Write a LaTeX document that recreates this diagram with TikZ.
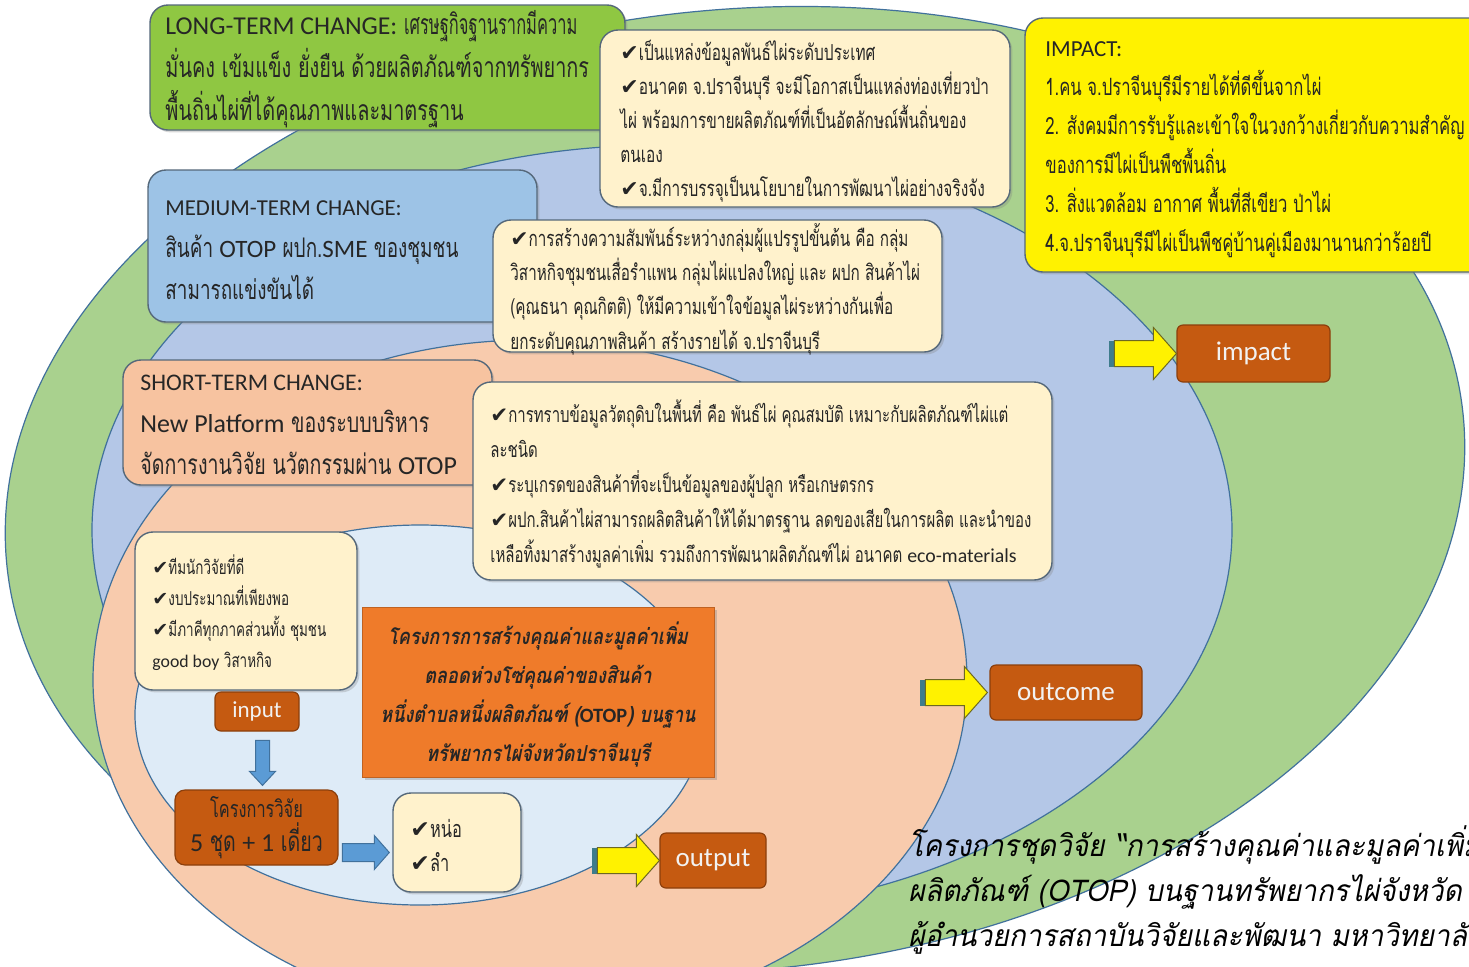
\documentclass[tikz,border=0pt]{standalone}
\usepackage{fontspec}
\setmainfont{Carlito}
\newfontfamily\thaifont[Script=Thai,FakeStretch=0.70]{Loma}
\newfontfamily\thaicond[Script=Thai,FakeStretch=0.58]{Loma}
\newfontfamily\thaibi[Script=Thai,FakeSlant=0.2,FakeStretch=0.82]{Loma}
\newfontfamily\thaiobl[Script=Thai,FakeSlant=0.2,FakeStretch=0.935]{Loma}
\newfontfamily\symfont{DejaVu Sans}
\newfontfamily\latfont[Scale=0.926]{Carlito}
\newcommand\ck{{\symfont\char"2714}}
\newcommand\enx[1]{{\latfont #1}}
\newcommand\fsz[2]{\fontsize{#1}{#2}\selectfont}
\usetikzlibrary{shadows,calc}
\definecolor{greenE}{HTML}{A9D18E}
\definecolor{blueE}{HTML}{B4C7E7}
\definecolor{peachE}{HTML}{F8CBAD}
\definecolor{ltblueE}{HTML}{DEEBF7}
\definecolor{greenB}{HTML}{8FC742}
\definecolor{medB}{HTML}{9DC3E6}
\definecolor{shortB}{HTML}{F7C3A0}
\definecolor{creamc}{HTML}{FFF2CC}
\definecolor{orangeB}{HTML}{EF7B2A}
\definecolor{btnc}{HTML}{C55A11}
\definecolor{btnline}{HTML}{8C3F0C}
\definecolor{boxline}{HTML}{55687A}
\definecolor{ellline}{HTML}{41719C}
\definecolor{txtc}{HTML}{262626}
\definecolor{arrblue}{HTML}{5B9BD5}
\definecolor{arrside}{HTML}{3E7C8C}
\begin{document}
\begin{tikzpicture}[x=0.5pt,y=-0.5pt,
  ell/.style={draw=ellline, line width=0.6pt},
  box/.style={draw=boxline, line width=0.7pt, rounded corners=9pt, inner sep=0pt,
    drop shadow={shadow xshift=1.2pt, shadow yshift=-1.2pt, opacity=0.3}},
  cream/.style={box, fill=creamc},
  txt/.style={anchor=west, align=left, inner sep=0pt, text=txtc},
  btn/.style={draw=btnline, line width=0.6pt, fill=btnc, rounded corners=3pt, inner sep=0pt, text=white!95!black},
  yarrow/.style={fill=yellow, draw=olive!70!black, line width=0.5pt},
  barrow/.style={fill=arrblue, draw=ellline, line width=0.5pt},
  yarr/.pic={
    \fill[arrside] (-67,-13) rectangle (-62,13);
    \filldraw[yarrow] (0,0) -- (-23,-26) -- (-23,-13) -- (-62,-13) -- (-62,13) -- (-23,13) -- (-23,26) -- cycle;},
  barrR/.pic={
    \filldraw[barrow] (0,0) -- (-15,-17) -- (-15,-9) -- (-47,-9) -- (-47,9) -- (-15,9) -- (-15,17) -- cycle;},
  barrD/.pic={
    \filldraw[barrow] (0,0) -- (-13,-14) -- (-7,-14) -- (-7,-45) -- (7,-45) -- (7,-14) -- (13,-14) -- cycle;}
]
\useasboundingbox (0,0) rectangle (1469,966);
\fill[white] (0,0) rectangle (1469,966);
% nested ellipses
\draw[ell, fill=greenE, rotate around={6:(735,490)}] (735,490) ellipse [x radius=366pt, y radius=240pt];
\draw[ell, fill=blueE] (662,530) ellipse [x radius=285pt, y radius=192.5pt];
\draw[ell, fill=peachE] (530,680) ellipse [x radius=218.5pt, y radius=170pt];
\draw[ell, fill=ltblueE] (420,715) ellipse [x radius=142.5pt, y radius=95pt];

% long-term
\node[box, fill=greenB, minimum width=237.5pt, minimum height=62.5pt] (lt) at (387.5,67.5) {};
\node[txt, font=\thaifont\fsz{14.2}{21.5}] (ltt) at (165,69) {{\latfont\fsz{13.9}{21.5}LONG-TERM CHANGE:} {\thaicond เศรษฐกิจฐานรากมีความ}\\
มั่นคง เข้มแข็ง ยั่งยืน ด้วยผลิตภัณฑ์จากทรัพยากร\\
พื้นถิ่นไผ่ที่ได้คุณภาพและมาตรฐาน};

% top middle cream
\node[cream, minimum width=205pt, minimum height=88.5pt] (lc) at (805,118.5) {};
\node[txt, font=\thaifont\fsz{11}{17}] (lct) at (620,121) {\ck เป็นแหล่งข้อมูลพันธ์ไผ่ระดับประเทศ\\
\ck อนาคต จ.ปราจีนบุรี จะมีโอกาสเป็นแหล่งท่องเที่ยวป่า\\
ไผ่ พร้อมการขายผลิตภัณฑ์ที่เป็นอัตลักษณ์พื้นถิ่นของ\\
ตนเอง\\
\ck จ.มีการบรรจุเป็นนโยบายในการพัฒนาไผ่อย่างจริงจัง};

% impact yellow
\node[box, fill=yellow, minimum width=232.5pt, minimum height=127pt] (imp) at (1257.5,145) {};
\node[txt, font=\thaifont\fsz{11.9}{19.5}] (impt) at (1045,150) {{\latfont\fsz{12.4}{19.5}IMPACT:}\\
1.คน จ.ปราจีนบุรีมีรายได้ที่ดีขึ้นจากไผ่\\
2. สังคมมีการรับรู้และเข้าใจในวงกว้างเกี่ยวกับความสำคัญ\\
ของการมีไผ่เป็นพืชพื้นถิ่น\\
3. สิ่งแวดล้อม อากาศ พื้นที่สีเขียว ป่าไผ่\\
4.จ.ปราจีนบุรีมีไผ่เป็นพืชคู่บ้านคู่เมืองมานานกว่าร้อยปี};

% medium-term
\node[box, fill=medB, minimum width=194.5pt, minimum height=76pt] (mt) at (342.5,246) {};
\node[txt, font=\thaifont\fsz{13.5}{21}] (mtt) at (165,250) {{\latfont\fsz{12.3}{21}MEDIUM-TERM CHANGE:}\\
สินค้า \enx{OTOP} ผปก.\enx{SME} ของชุมชน\\
สามารถแข่งขันได้};

% middle cream 2
\node[cream, minimum width=224.5pt, minimum height=66pt] (mc) at (717.5,286) {};
\node[txt, font=\thaifont\fsz{10.9}{17.2}] (mct) at (510,289) {\ck การสร้างความสัมพันธ์ระหว่างกลุ่มผู้แปรรูปขั้นต้น คือ กลุ่ม\\
วิสาหกิจชุมชนเสื่อรำแพน กลุ่มไผ่แปลงใหญ่ และ ผปก สินค้าไผ่\\
(คุณธนา คุณกิตติ) ให้มีความเข้าใจข้อมูลไผ่ระหว่างกันเพื่อ\\
ยกระดับคุณภาพสินค้า สร้างรายได้ จ.ปราจีนบุรี};

% short-term
\node[box, fill=shortB, minimum width=184.5pt, minimum height=62.5pt] (st) at (307.5,422.5) {};
\node[txt, font=\thaifont\fsz{14}{21}] (stt) at (140,425) {{\latfont\fsz{12.85}{21}SHORT-TERM CHANGE:}\\
\enx{New Platform} ของระบบบริหาร\\
จัดการงานวิจัย นวัตกรรมผ่าน \enx{OTOP}};

% big cream
\node[cream, minimum width=289.5pt, minimum height=99pt] (bc) at (762.5,481) {};
\node[txt, font=\thaifont\fsz{10.7}{17.5}] (bct) at (490,484) {\ck การทราบข้อมูลวัตถุดิบในพื้นที่ คือ พันธ์ไผ่ คุณสมบัติ เหมาะกับผลิตภัณฑ์ไผ่แต่\\
ละชนิด\\
\ck ระบุเกรดของสินค้าที่จะเป็นข้อมูลของผู้ปลูก หรือเกษตรกร\\
\ck ผปก.สินค้าไผ่สามารถผลิตสินค้าให้ได้มาตรฐาน ลดของเสียในการผลิต และนำของ\\
เหลือทิ้งมาสร้างมูลค่าเพิ่ม รวมถึงการพัฒนาผลิตภัณฑ์ไผ่ อนาคต \enx{eco-materials}};

% input cream
\node[cream, minimum width=111pt, minimum height=79pt] (ic) at (246,611) {};
\node[txt, font=\thaifont\fsz{9.6}{15.5}] (ict) at (152,613) {\ck ทีมนักวิจัยที่ดี\\
\ck งบประมาณที่เพียงพอ\\
\ck มีภาคีทุกภาคส่วนทั้ง ชุมชน\\
\enx{good boy} วิสาหกิจ};

% orange project box
\node[draw=orangeB!80!black, line width=0.4pt, fill=orangeB, minimum width=176pt, minimum height=85pt, inner sep=0pt,
  drop shadow={shadow xshift=1.5pt, shadow yshift=-1.5pt, opacity=0.35}] (ob) at (538,692) {};
\node[align=center, inner sep=0pt, text=black!85, font=\thaibi\bfseries\fsz{11}{19.5}] (obt) at (538,695) {โครงการการสร้างคุณค่าและมูลค่าเพิ่ม\\
ตลอดห่วงโซ่คุณค่าของสินค้า\\
หนึ่งตำบลหนึ่งผลิตภัณฑ์ (\enx{OTOP}) บนฐาน\\
ทรัพยากรไผ่จังหวัดปราจีนบุรี};

% input button
\node[btn, minimum width=42pt, minimum height=19.5pt, font=\fsz{11.5}{13}] (inb) at (257,711.5) {input};
% research box
\node[btn, rounded corners=5pt, minimum width=81.5pt, minimum height=37.5pt, text=black!85, align=center,
  font=\thaifont\fsz{11.7}{17}] (res) at (256.5,827.5) {โครงการวิจัย\\{\fsz{14}{17}\enx{5} ชุด \enx{+ 1} เดี่ยว}};
\pic at ($(res.north)+(6,-4)$) {barrD};
% hno box
\node[cream, minimum width=64pt, minimum height=49.5pt] (hn) at (457,842.5) {};
\node[txt, font=\thaifont\fsz{11.7}{17}] (hnt) at (410,845) {\ck หน่อ\\ \ck ลำ};
\pic at ($(hn.west)+(-3,10)$) {barrR};

% output / outcome / impact
\node[btn, minimum width=53pt, minimum height=27.5pt, font=\fsz{13.5}{15}] (outp) at (713,860.5) {output};
\pic at (outp.west) {yarr};
\node[btn, minimum width=76pt, minimum height=27.5pt, font=\fsz{13.5}{15}] (outc) at (1066,692.5) {outcome};
\pic at ($(outc.west)+(-2,0)$) {yarr};
\node[btn, minimum width=76.5pt, minimum height=28.5pt, font=\fsz{13.5}{15}] (impb) at (1253.5,353.5) {impact};
\pic at (impb.west) {yarr};

% bottom caption
\node[txt, text=black, font=\thaiobl\fsz{15}{22.5}] (cap) at (908,890) {โครงการชุดวิจัย “การสร้างคุณค่าและมูลค่าเพิ่ม\\
ผลิตภัณฑ์ (OTOP) บนฐานทรัพยากรไผ่จังหวัด\\
ผู้อำนวยการสถาบันวิจัยและพัฒนา มหาวิทยาลัย};
\end{tikzpicture}
\end{document}
